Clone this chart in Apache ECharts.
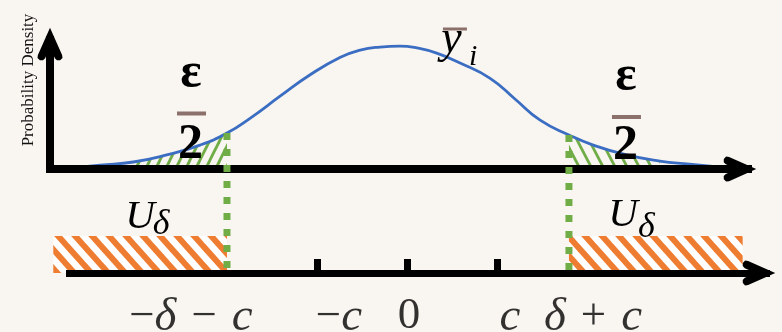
<!DOCTYPE html>
<html>
<head>
<meta charset="utf-8">
<title>Tail probability and U_δ</title>
<script src="https://cdn.jsdelivr.net/npm/echarts@6.0.0/dist/echarts.min.js"></script>
<style>
  html, body { margin: 0; padding: 0; background: #f9f6f1; }
  #chart { width: 782px; height: 332px; }
</style>
</head>
<body>
<div id="chart"></div>
<script>
// ---- data: x in units of c, y is the probability density ----
const curveX = [-3.69, -3.41, -3.04, -2.67, -2.30, -2.00, -1.74, -1.41, -1.08, -0.74, -0.52, -0.30, -0.08,
                0.11, 0.33, 0.59, 0.92, 1.20, 1.48, 1.80, 2.07, 2.44, 2.81, 3.14, 3.48];
const curveY = [0.005, 0.013, 0.023, 0.046, 0.078, 0.117, 0.166, 0.237, 0.306, 0.364, 0.387, 0.397, 0.400,
                0.394, 0.377, 0.345, 0.296, 0.228, 0.159, 0.111, 0.078, 0.046, 0.026, 0.016, 0.006];
const cutLow = -2.0;          // −δ − c
const cutHigh = 1.8;          // δ + c
const tailStart = -3.05;
const tailEnd = 2.85;
const uLeft = [-3.93, cutLow];
const uRight = [cutHigh, 3.73];
const tickValues = [-1, 0, 1];
const labelValues = [cutLow, -1, 0, 1, cutHigh];
const tickLabels = ['−δ − c', '−c', '0', 'c', 'δ + c'];

// ---- layout & style ----
const SERIF = '"Liberation Serif", "Times New Roman", serif';
const BG = '#f9f6f1';
const BLUE = '#3b6dc2';
const GREEN = '#70ad47';
const ORANGE = '#ee7d31';
const BROWN = '#8b706c';
const X_MIN = -4.011, X_MAX = 3.834;           // main grid spans 46..752 px
const MAIN_LEFT = 46, MAIN_RIGHT = 752;
const PX_PER_UNIT = (MAIN_RIGHT - MAIN_LEFT) / (X_MAX - X_MIN);
const Y_MIN = -0.53, Y_MAX = 0.55;
const H = 332;
const NUMLINE_PX = 273;
const numberLineY = Y_MAX - NUMLINE_PX * (Y_MAX - Y_MIN) / H;
const bandTop = Y_MAX - 236 * (Y_MAX - Y_MIN) / H;
const labelShift = [-36, 22, 2, 13, 24];   // px nudges of the tick labels

// open chevron arrow head, pointing up (axis code rotates it)
const ARROW = 'path://M0,0 L12.2,27.4 L12.6,30.4 L10.2,32.7 L7,32.8 L4.9,30.7 L0,19.7 L-4.9,30.7 L-7,32.8 L-10.2,32.7 L-12.6,30.4 L-12.2,27.4 Z';

function hatch(w, h, dir, color, lw, bg) {
  const c = document.createElement('canvas');
  c.width = w; c.height = h;
  const g = c.getContext('2d');
  if (bg) { g.fillStyle = bg; g.fillRect(0, 0, w, h); }
  g.strokeStyle = color; g.lineWidth = lw;
  for (let k = -1; k <= 1; k++) {
    g.beginPath();
    if (dir > 0) { g.moveTo(k * w - w * 0.3, h * 1.3); g.lineTo(k * w + w * 1.3, -h * 0.3); }
    else { g.moveTo(k * w - w * 0.3, -h * 0.3); g.lineTo(k * w + w * 1.3, h * 1.3); }
    g.stroke();
  }
  return { image: c, repeat: 'repeat' };
}

const curve = curveX.map((x, i) => [x, curveY[i]]);
const yAt = x => curveY[curveX.indexOf(x)];
const leftTail = curve.filter(p => p[0] >= tailStart && p[0] <= cutLow);
const rightTail = curve.filter(p => p[0] >= cutHigh && p[0] <= tailEnd);

// rich text for math-style labels: letters italic, operators upright, spaced like math
function mathRich(str) {
  let out = '';
  for (const ch of str) {
    if (ch === ' ') out += '{s|}';
    else out += /[a-zA-Zδ]/.test(ch) ? '{i|' + ch + '}' : '{n|' + ch + '}';
  }
  return out;
}
const mathStyles = {
  n: { fontFamily: SERIF, fontSize: 45, color: '#000' },
  i: { fontFamily: SERIF, fontSize: 47, fontStyle: 'italic', color: '#000' },
  s: { width: 15, height: 1 }
};
labelShift.forEach((s, k) => { mathStyles['p' + k] = { width: Math.abs(s) * 2, height: 1 }; });
function shiftedLabel(k) {
  const body = mathRich(tickLabels[k]);
  return labelShift[k] >= 0 ? '{p' + k + '|}' + body : body + '{p' + k + '|}';
}

function note(x, y, text, style) {
  return {
    coord: [x, y], symbol: 'circle', symbolSize: 0,
    label: Object.assign({ show: true, position: 'inside', formatter: text, color: '#000',
      fontFamily: SERIF }, style)
  };
}
function bar(x, y, w, h) {
  return { coord: [x, y], symbol: 'rect', symbolSize: [w, h], itemStyle: { color: BROWN }, label: { show: false } };
}

const option = {
  backgroundColor: BG,
  animation: false,
  grid: [
    { left: MAIN_LEFT, right: 782 - MAIN_RIGHT, top: 0, bottom: 0, outerBoundsMode: 'none', containLabel: false },
    { left: 66, right: 12, top: 240, bottom: H - NUMLINE_PX, outerBoundsMode: 'none', containLabel: false },
    { left: 50, width: 10, top: 36, bottom: H - 173, outerBoundsMode: 'none', containLabel: false }
  ],
  xAxis: [
    {
      gridIndex: 0, type: 'value', min: X_MIN, max: X_MAX, z: 3,
      axisLine: { show: true, onZero: true, symbol: ['none', ARROW], symbolSize: [25, 33], symbolOffset: [0, -12],
        lineStyle: { color: '#000', width: 8, cap: 'butt' } },
      axisTick: { show: false }, axisLabel: { show: false }, splitLine: { show: false }
    },
    {
      gridIndex: 1, type: 'value', z: 5,
      min: X_MIN + (66 - MAIN_LEFT) / PX_PER_UNIT,
      max: X_MIN + (770 - MAIN_LEFT) / PX_PER_UNIT,
      axisLine: { show: true, onZero: false, symbol: ['none', ARROW], symbolSize: [25, 33], symbolOffset: [0, -11],
        lineStyle: { color: '#000', width: 7, cap: 'butt' } },
      axisTick: { show: true, inside: true, customValues: tickValues, length: 14,
        lineStyle: { color: '#000', width: 7, cap: 'butt' } },
      axisLabel: { show: false },
      splitLine: { show: false }
    },
    { gridIndex: 2, type: 'value', min: 0, max: 1, show: false }
  ],
  yAxis: [
    {
      gridIndex: 0, type: 'value', min: Y_MIN, max: Y_MAX,
      axisLine: { show: false }, axisTick: { show: false }, axisLabel: { show: false }, splitLine: { show: false }
    },
    { gridIndex: 1, type: 'value', min: 0, max: 1, show: false },
    {
      gridIndex: 2, type: 'value', min: 0, max: 1, z: 3,
      axisLine: { show: true, onZero: false, symbol: ['none', ARROW], symbolSize: [25, 33], symbolOffset: [0, -8],
        lineStyle: { color: '#000', width: 8, cap: 'butt' } },
      axisTick: { show: false }, axisLabel: { show: false }, splitLine: { show: false }
    }
  ],
  graphic: [
    {
      type: 'text', x: 29, y: 80, rotation: Math.PI / 2,
      style: { text: 'Probability Density', font: '17px ' + SERIF, fill: '#111', align: 'center', verticalAlign: 'middle' }
    }
  ],
  series: [
    {
      name: 'density', type: 'line', data: curve, smooth: true, showSymbol: false, z: 2,
      lineStyle: { color: BLUE, width: 2.8 },
      markPoint: {
        silent: true,
        data: [
          bar(0.533, 0.4557, 24, 3),
          note(0.494, 0.4215, 'y', { fontSize: 46, fontStyle: 'italic' }),
          note(0.736, 0.3646, 'i', { fontSize: 30, fontStyle: 'italic' })
        ]
      }
    },
    {
      name: 'lower tail', type: 'line', data: leftTail, smooth: true, showSymbol: false, z: 1,
      lineStyle: { width: 0, opacity: 0 },
      areaStyle: { color: hatch(10, 20, 1, GREEN, 2.8), opacity: 1 },
      markPoint: {
        silent: true,
        data: [
          note(-2.40, 0.3077, 'ε', { fontSize: 50, fontWeight: 'bold' }),
          bar(-2.394, 0.1808, 29, 4),
          note(-2.406, 0.0767, '2', { fontSize: 50, fontWeight: 'bold' })
        ]
      }
    },
    {
      name: 'upper tail', type: 'line', data: rightTail, smooth: true, showSymbol: false, z: 1,
      lineStyle: { width: 0, opacity: 0 },
      areaStyle: { color: hatch(12, 23, -1, GREEN, 2.8), opacity: 1 },
      markPoint: {
        silent: true,
        data: [
          note(2.433, 0.2995, 'ε', { fontSize: 50, fontWeight: 'bold' }),
          bar(2.439, 0.1694, 29, 4),
          note(2.428, 0.0734, '2', { fontSize: 50, fontWeight: 'bold' })
        ]
      }
    },
    {
      name: 'U region', type: 'line', data: [], z: 1,
      markArea: {
        silent: true,
        itemStyle: { color: hatch(17, 19, -1, ORANGE, 6, '#ffffff') },
        data: [
          [{ xAxis: uLeft[0], yAxis: numberLineY }, { xAxis: uLeft[1], yAxis: bandTop }],
          [{ xAxis: uRight[0], yAxis: numberLineY }, { xAxis: uRight[1], yAxis: bandTop }]
        ]
      },
      markPoint: {
        silent: true,
        data: [
          note(-2.967, -0.1575, 'U', { fontSize: 41, fontStyle: 'italic' }),
          note(-2.733, -0.1819, 'δ', { fontSize: 36, fontStyle: 'italic' }),
          note(2.40, -0.1494, 'U', { fontSize: 41, fontStyle: 'italic' }),
          note(2.661, -0.1901, 'δ', { fontSize: 36, fontStyle: 'italic' })
        ]
      }
    },
    {
      name: 'lower cut', type: 'line', z: 6, showSymbol: false,
      data: [[cutLow, yAt(cutLow)], [cutLow, numberLineY + 0.005]],
      lineStyle: { color: GREEN, width: 7, type: [7, 9], cap: 'butt' }
    },
    {
      name: 'upper cut', type: 'line', z: 6, showSymbol: false,
      data: [[cutHigh, yAt(cutHigh)], [cutHigh, numberLineY + 0.005]],
      lineStyle: { color: GREEN, width: 7, type: [7, 9], cap: 'butt' }
    },
    {
      // tick labels of the number line, set under their ticks
      name: 'tick labels', type: 'scatter', xAxisIndex: 1, yAxisIndex: 1, z: 5,
      symbolSize: 0, clip: false, silent: true,
      data: labelValues.map(v => [v, 0]),
      label: {
        show: true, position: 'bottom', distance: 21,
        formatter: p => shiftedLabel(p.dataIndex),
        rich: mathStyles
      },
      labelLayout: { hideOverlap: false }
    }
  ]
};

const chart = echarts.init(document.getElementById('chart'));
chart.setOption(option);
</script>
</body>
</html>
